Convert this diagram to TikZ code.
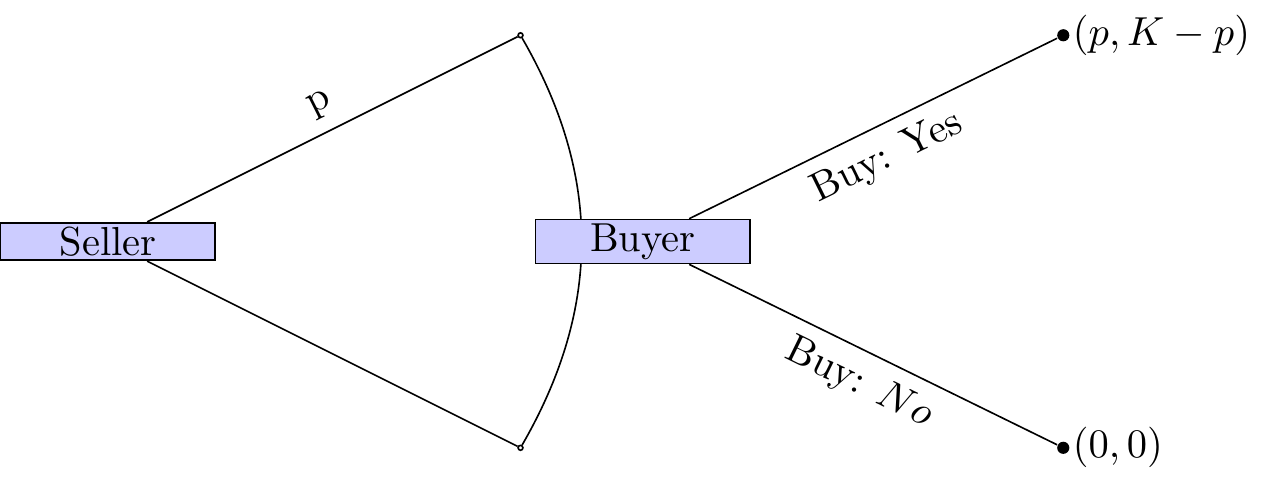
\documentclass[tikz,border=0pt]{standalone}
\usepackage{amsmath}
\usetikzlibrary{positioning}
\tikzset{
  player/.style={draw, fill=blue!20, minimum width=53pt, inner xsep=2pt, inner ysep=1pt},
  offertip/.style={draw, circle, inner sep=0pt, minimum size=1.2pt},
  outcome/.style={fill, circle, inner sep=0pt, minimum size=3pt},
}
\newcommand{\offerx}{3.58}
\newcommand{\offery}{1.79}

\begin{document}
\begin{tikzpicture}
  \useasboundingbox (-0.937, -2.096) rectangle (10.058, 2.096);

  \node [player] (seller) at (0, 0) {Seller};
  \node [offertip] (offerhi) at (\offerx, \offery) {};
  \node [offertip] (offerlo) at (\offerx, -\offery) {};

  \draw (offerhi) to [bend left=30] (offerlo);

  \node [player] (buyer) at (4.64, 0) {Buyer};

  \node [outcome, label={[inner sep=0.5pt]right:$(p, K-p)$}] (yes) at (8.29, \offery) {};
  \node [outcome, label={[inner sep=0.5pt]right:$(0, 0)$}] (no) at (8.29, -\offery) {};

  \draw (seller) -- node [above, sloped] {p} (offerhi);
  \draw (seller) -- (offerlo);

  \draw (buyer) -- node [below, sloped] {Buy: Yes} (yes);
  \draw (buyer) -- node [below, sloped] {Buy: $No$} (no);
\end{tikzpicture}
\end{document}
